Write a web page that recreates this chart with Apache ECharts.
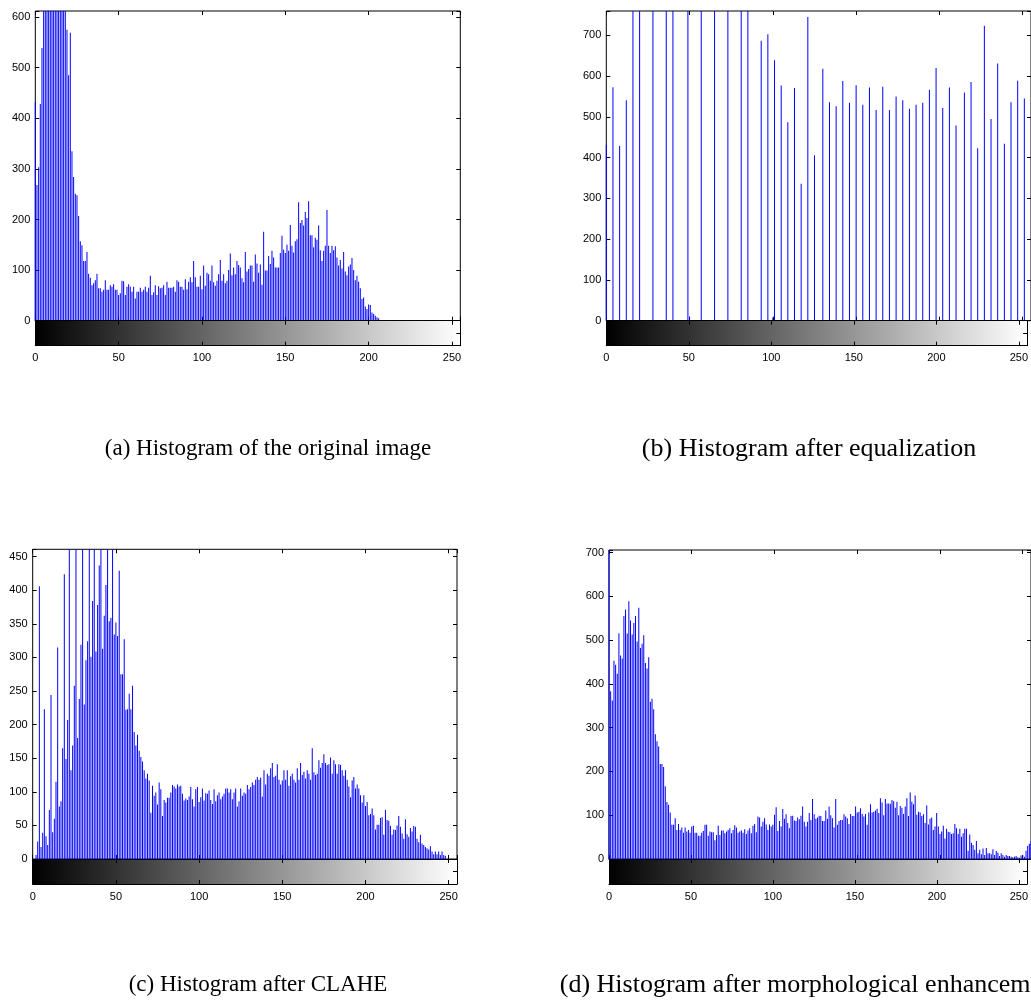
<!DOCTYPE html>
<html><head><meta charset="utf-8">
<script src="https://cdn.jsdelivr.net/npm/echarts@6/dist/echarts.min.js"></script>
<style>html,body{margin:0;padding:0;background:#fff}#c{width:1031px;height:1001px}</style>
</head><body><div id="c"></div>
<script>
// ---------- data ----------
const xTickLabels = [0, 50, 100, 150, 200, 250];

// (a) original image: counts per grey level 0..255
const histA = [
 432,268,303,428,539,650,700,760,820,880,
 900,910,890,850,800,760,720,680,640,575,
 485,569,335,284,251,248,207,157,149,118,
 118,136,93,85,70,74,80,93,64,64,
 57,61,80,61,61,70,67,72,61,61,
 51,54,79,78,51,67,72,67,57,67,
 44,57,57,65,57,61,67,57,65,89,
 51,56,70,51,68,64,65,70,51,77,
 65,65,65,67,57,80,77,67,67,61,
 82,62,77,86,76,118,86,67,67,89,
 62,109,69,95,92,79,109,76,69,79,
 92,120,79,92,74,79,100,133,90,105,
 92,118,110,105,84,76,136,97,102,109,
 109,77,131,113,95,111,71,176,99,99,
 128,112,138,125,105,105,105,134,168,140,
 134,150,138,189,148,135,157,161,234,193,
 199,188,215,203,236,169,169,145,164,160,
 188,139,118,138,148,219,148,134,148,139,
 147,125,109,120,103,136,97,90,107,111,
 124,100,80,89,77,64,43,46,28,23,
 32,31,16,13,10,7,5,0,0,0,
 0,0,0,0,0,0,0,0,0,0,
 0,0,0,0,0,0,0,0,0,0,
 0,0,0,0,0,0,0,0,0,0,
 0,0,0,0,0,0,0,0,0,0,
 0,0,0,0,0,0
];

// (b) after equalization: only the occupied grey levels
const binsB = [0,4,8,12,16,20,28,36,40,49,50,57,65,73,81,85,93,97,100,101,105,109,113,117,121,125,
 130,134,138,142,146,150,154,158,162,166,170,174,178,182,186,190,194,198,202,206,210,215,219,223,
 227,231,235,239,243,247,251];
const countsB = [432,573,429,541,1500,1400,1300,1200,1250,1600,10,1100,1000,1050,950,900,687,703,8,639,577,487,571,336,745,406,
 618,536,526,588,535,578,530,572,517,574,517,550,541,520,530,535,567,620,522,572,479,560,586,423,
 724,495,631,434,536,589,545];

// (c) after CLAHE
const histC = [
 0,0,6,26,406,18,39,223,34,21,
 73,244,40,60,115,315,78,86,165,424,
 149,207,600,132,169,258,620,180,238,319,
 650,230,296,324,660,301,384,640,309,378,
 437,680,313,362,408,700,354,359,630,334,
 352,332,429,275,275,327,222,223,246,223,
 258,189,169,185,161,152,145,132,120,127,
 117,69,109,94,99,81,114,104,64,88,
 84,91,91,99,110,108,105,111,108,109,
 97,87,90,88,93,107,89,78,104,107,
 85,92,105,87,98,97,102,88,82,104,
 86,95,99,89,93,97,105,105,99,104,
 89,99,105,78,86,105,94,99,97,110,
 104,107,114,110,118,122,118,121,93,132,
 111,127,124,135,143,122,124,141,118,111,
 117,132,118,132,109,123,127,118,114,135,
 118,143,125,130,120,132,127,118,165,129,
 125,127,147,136,143,156,143,140,141,151,
 127,147,141,127,141,140,132,124,132,118,
 108,92,117,122,105,111,105,95,84,95,
 79,85,65,67,75,65,44,51,51,61,
 62,36,73,58,57,49,36,44,43,50,
 64,48,38,30,59,37,33,46,41,49,
 48,30,25,36,23,21,18,16,14,19,
 11,7,11,7,11,6,11,6,5,0,
 0,0,0,0,0,0
];

// (d) after morphological enhancement
const histD = [
 900,383,362,453,444,423,516,465,458,555,
 570,515,589,545,513,539,555,497,574,482,
 492,511,448,435,461,359,366,342,285,269,
 257,217,217,210,166,130,124,106,78,78,
 93,66,80,66,72,60,72,63,66,60,
 74,76,60,60,53,53,60,64,78,78,
 53,63,61,61,43,55,76,55,65,65,
 59,63,66,70,59,66,77,72,60,63,
 65,60,68,57,65,70,59,76,80,61,
 97,95,74,85,93,79,66,79,74,78,
 101,118,64,87,74,114,92,102,82,70,
 98,99,88,87,95,91,99,120,85,74,
 85,105,89,137,102,92,95,99,98,87,
 87,111,92,120,100,93,72,137,78,87,
 89,89,102,97,93,80,103,98,98,120,
 106,108,116,103,97,103,78,106,125,106,
 108,111,115,105,139,129,100,137,127,127,
 126,135,132,117,131,100,121,117,103,120,
 139,98,152,131,125,145,101,108,106,98,
 102,82,122,79,92,95,66,74,105,74,
 57,63,76,47,69,62,61,57,59,80,
 70,57,69,51,59,69,69,19,56,37,
 32,21,41,13,21,11,24,9,25,13,
 13,11,22,9,18,14,7,13,9,5,
 9,7,7,5,4,5,7,4,3,8,
 9,5,19,30,35,40
];

const captions = [
 '(a) Histogram of the original image',
 '(b) Histogram after equalization',
 '(c) Histogram after CLAHE',
 '(d) Histogram after morphological enhancement'
];
const yMax = [612, 760, 461, 706];
const yStep = [100, 100, 50, 100];

// ---------- layout ----------
const layout = [
 {left: 35.3, top: 11, width: 425, height: 309.7, cb: 25, cap: [268, 449], capSize: 23},
 {left: 606.3, top: 11, width: 425, height: 309.7, cb: 25, cap: [809, 449], capSize: 26},
 {left: 32.7, top: 549.3, width: 424.3, height: 309.7, cb: 25, cap: [258, 985], capSize: 23},
 {left: 609, top: 550, width: 425, height: 309, cb: 25, cap: [811, 985], capSize: 26}
];

const seriesData = [
 histA.map((v, i) => [i, v]),
 binsB.map((b, k) => [b, countsB[k]]),
 histC.map((v, i) => [i, v]),
 histD.map((v, i) => [i, v])
];

const labelFont = {fontFamily: 'Liberation Sans', fontSize: 11, color: '#000'};
const tick = {show: true, inside: true, length: 4, lineStyle: {color: '#000', width: 1}};

const grid = [], xAxis = [], yAxis = [], series = [];
layout.forEach((L, p) => {
  const gMain = grid.length;
  grid.push({left: L.left, top: L.top, width: L.width, height: L.height, show: true,
    borderColor: '#000', borderWidth: 1, backgroundColor: 'transparent'});
  const gCb = grid.length;
  grid.push({left: L.left, top: L.top + L.height, width: L.width, height: L.cb, show: false});

  const xm = xAxis.length;
  xAxis.push({type: 'value', gridIndex: gMain, position: 'bottom', min: 0, max: 255, interval: 50,
    axisLine: {show: false, onZero: false}, axisTick: tick, axisLabel: {show: false}, splitLine: {show: false}});
  xAxis.push({type: 'value', gridIndex: gMain, position: 'top', min: 0, max: 255, interval: 50,
    axisLine: {show: false, onZero: false}, axisTick: tick, axisLabel: {show: false}, splitLine: {show: false}});
  const xc = xAxis.length;
  xAxis.push({type: 'value', gridIndex: gCb, position: 'bottom', min: 0, max: 255, interval: 50, z: 5,
    axisLine: {show: true, onZero: false, lineStyle: {color: '#000', width: 1}}, axisTick: tick,
    axisLabel: Object.assign({show: true, margin: 7,
      formatter: v => (xTickLabels.indexOf(v) >= 0 ? String(v) : '')}, labelFont),
    splitLine: {show: false}});
  xAxis.push({type: 'value', gridIndex: gCb, position: 'top', min: 0, max: 255, interval: 50, z: 5,
    axisLine: {show: true, onZero: false, lineStyle: {color: '#000', width: 1}}, axisTick: tick,
    axisLabel: {show: false}, splitLine: {show: false}});

  const ym = yAxis.length;
  const st = yStep[p];
  yAxis.push({type: 'value', gridIndex: gMain, position: 'left', min: 0, max: yMax[p], interval: st,
    axisLine: {show: false, onZero: false}, axisTick: tick,
    axisLabel: Object.assign({show: true, margin: 5,
      formatter: v => (Math.abs(v / st - Math.round(v / st)) < 1e-6 ? String(v) : '')}, labelFont),
    splitLine: {show: false}});
  yAxis.push({type: 'value', gridIndex: gMain, position: 'right', min: 0, max: yMax[p], interval: st,
    axisLine: {show: false, onZero: false}, axisTick: tick, axisLabel: {show: false}, splitLine: {show: false}});
  const yc = yAxis.length;
  yAxis.push({type: 'value', gridIndex: gCb, position: 'left', min: 0, max: 1, interval: 0.5, z: 5,
    axisLine: {show: true, onZero: false, lineStyle: {color: '#000', width: 1}}, axisTick: {show: false},
    axisLabel: {show: false}, splitLine: {show: false}});
  yAxis.push({type: 'value', gridIndex: gCb, position: 'right', min: 0, max: 1, interval: 0.5, z: 5,
    axisLine: {show: true, onZero: false, lineStyle: {color: '#000', width: 1}}, axisTick: tick,
    axisLabel: {show: false}, splitLine: {show: false}});

  series.push({type: 'bar', xAxisIndex: xm, yAxisIndex: ym, data: seriesData[p], barWidth: 1,
    clip: true, silent: true, itemStyle: {color: '#0000ff'}});
  series.push({type: 'custom', xAxisIndex: xc, yAxisIndex: yc, data: [[0, 255]], silent: true, z: 1,
    renderItem: (params, api) => {
      const a = api.coord([api.value(0), 0]);
      const b = api.coord([api.value(1), 1]);
      return {type: 'rect', shape: {x: a[0], y: b[1], width: b[0] - a[0], height: a[1] - b[1]},
        style: {fill: new echarts.graphic.LinearGradient(0, 0, 1, 0,
          [{offset: 0, color: '#000'}, {offset: 1, color: '#fff'}])}};
    }});
});

const graphic = captions.map((t, i) => ({type: 'text', x: layout[i].cap[0], y: layout[i].cap[1], silent: true,
  style: {text: t, align: 'center', verticalAlign: 'middle', fontFamily: 'Liberation Serif',
    fontSize: layout[i].capSize, fill: '#000'}}));

const chart = echarts.init(document.getElementById('c'), null, {renderer: 'canvas'});
chart.setOption({animation: false, backgroundColor: '#fff', grid, xAxis, yAxis, series, graphic});
</script></body></html>
